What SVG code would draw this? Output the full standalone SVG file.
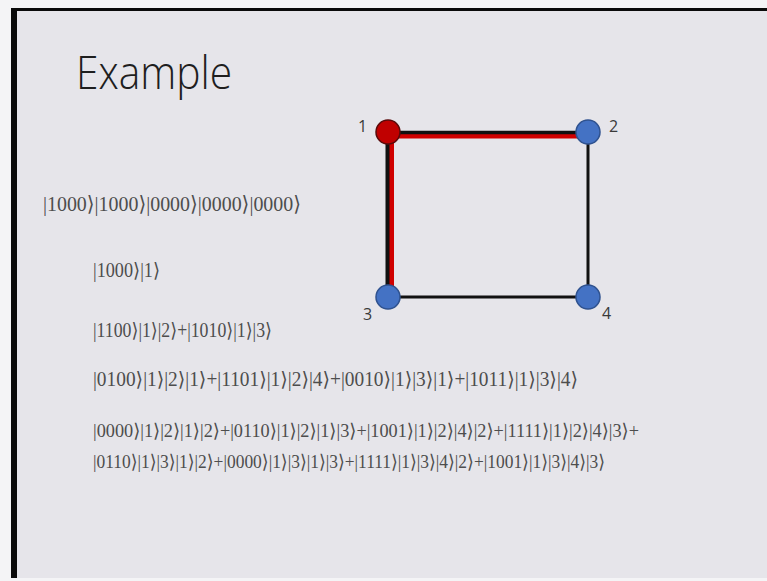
<svg xmlns="http://www.w3.org/2000/svg" width="767" height="581" viewBox="0 0 767 581">
<style>
.title{font-family:"Open Sans","Liberation Sans",sans-serif;font-weight:300;font-size:46px;fill:#1e1e1e}
.lbl{font-family:"Open Sans","Liberation Sans",sans-serif;font-size:16px;fill:#3a3a3a}
.m{font-family:"Liberation Serif","DejaVu Serif",serif;fill:#4d4d4d}
.blue{fill:#4472c4;stroke:#2f528f;stroke-width:1.5}
.red{fill:#c00000;stroke:#5a0a0a;stroke-width:1.5}
.thin{stroke:#111;stroke-width:3;fill:none}
</style>
<rect x="0" y="0" width="767" height="581" fill="#f4f4f6"/>
<rect x="11" y="8" width="756" height="570" fill="#0a0a0a"/>
<rect x="17" y="11" width="750" height="567" fill="#e6e5ea"/>
<text class="title" x="76" y="89" textLength="156" lengthAdjust="spacingAndGlyphs">Example</text>
<g id="connectors">
<line class="thin" x1="588" y1="132" x2="588" y2="297"/>
<line class="thin" x1="388" y1="297" x2="588" y2="297"/>
<line x1="388" y1="135" x2="588" y2="135" stroke="#d00000" stroke-width="7"/>
<line x1="388" y1="132.5" x2="588" y2="132.5" stroke="#111" stroke-width="3.5"/>
<line x1="390" y1="132" x2="390" y2="297" stroke="#d00000" stroke-width="8"/>
<line x1="387.5" y1="132" x2="387.5" y2="297" stroke="#111" stroke-width="4"/>
</g>
<g id="node1"><circle class="red" cx="388" cy="132" r="12"/><text class="lbl" x="358" y="132">1</text></g>
<g id="node2"><circle class="blue" cx="588" cy="132" r="12"/><text class="lbl" x="609" y="132">2</text></g>
<g id="node3"><circle class="blue" cx="388" cy="297" r="12"/><text class="lbl" x="363" y="320">3</text></g>
<g id="node4"><circle class="blue" cx="588" cy="297" r="12"/><text class="lbl" x="602" y="319">4</text></g>
<g id="equations">
<text class="m" x="43" y="211" font-size="21" textLength="258" lengthAdjust="spacingAndGlyphs">|1000⟩|1000⟩|0000⟩|0000⟩|0000⟩</text>
<text class="m" x="93" y="277" font-size="20" textLength="67" lengthAdjust="spacingAndGlyphs">|1000⟩|1⟩</text>
<text class="m" x="93" y="337" font-size="20" textLength="179" lengthAdjust="spacingAndGlyphs">|1100⟩|1⟩|2⟩+|1010⟩|1⟩|3⟩</text>
<text class="m" x="93" y="386" font-size="20" textLength="485" lengthAdjust="spacingAndGlyphs">|0100⟩|1⟩|2⟩|1⟩+|1101⟩|1⟩|2⟩|4⟩+|0010⟩|1⟩|3⟩|1⟩+|1011⟩|1⟩|3⟩|4⟩</text>
<text class="m" x="93" y="437" font-size="19" textLength="546" lengthAdjust="spacingAndGlyphs">|0000⟩|1⟩|2⟩|1⟩|2⟩+|0110⟩|1⟩|2⟩|1⟩|3⟩+|1001⟩|1⟩|2⟩|4⟩|2⟩+|1111⟩|1⟩|2⟩|4⟩|3⟩+</text>
<text class="m" x="93" y="468" font-size="19" textLength="512" lengthAdjust="spacingAndGlyphs">|0110⟩|1⟩|3⟩|1⟩|2⟩+|0000⟩|1⟩|3⟩|1⟩|3⟩+|1111⟩|1⟩|3⟩|4⟩|2⟩+|1001⟩|1⟩|3⟩|4⟩|3⟩</text>
</g>
</svg>
